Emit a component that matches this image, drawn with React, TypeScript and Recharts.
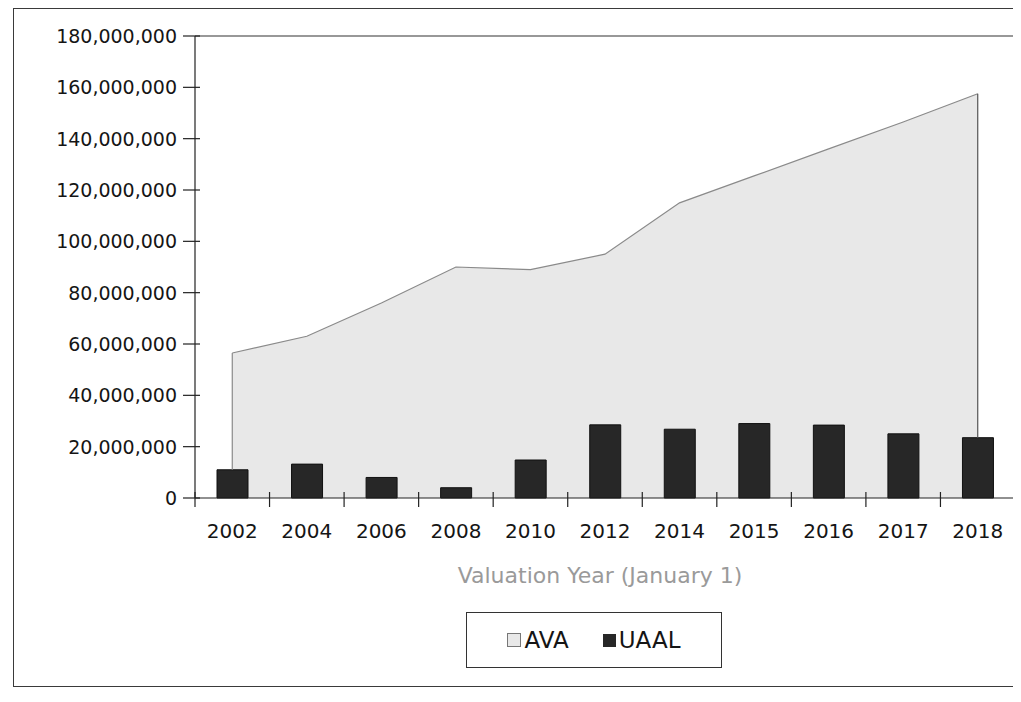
import React from "react";
import {
  ComposedChart, Area, Bar, XAxis, YAxis, ReferenceLine,
} from "recharts";

const YEARS = ["2002", "2004", "2006", "2008", "2010", "2012", "2014", "2015", "2016", "2017", "2018"];
const AVA = [56500000, 63000000, 76000000, 90000000, 89000000, 95000000, 115000000, 125500000, 136000000, 146500000, 157500000];
const UAAL = [11000000, 13200000, 8000000, 4000000, 14800000, 28500000, 26800000, 29000000, 28400000, 25000000, 23500000];
const Y_TICKS = [0, 20000000, 40000000, 60000000, 80000000, 100000000, 120000000, 140000000, 160000000, 180000000];

const data = YEARS.map((year, i) => ({ year, ava: AVA[i], uaal: UAAL[i] }));

const FONT = '"DejaVu Sans", Verdana, sans-serif';
const CHART_W = 1010;
const CHART_H = 540;
const M = { top: 26, right: 10, left: 0, bottom: 0 };
const Y_W = 180;
const X_H = 52;
const PLOT_BOTTOM = CHART_H - M.bottom - X_H;
const BAND = (CHART_W - M.right - M.left - Y_W) / YEARS.length;
const LAST = YEARS.length - 1;

const XTick = (props: any) => {
  const { x, payload, index } = props;
  return (
    <g>
      <line x1={x - BAND / 2} x2={x - BAND / 2} y1={PLOT_BOTTOM - 6} y2={PLOT_BOTTOM + 9} stroke="#222" strokeWidth={1.2} />
      {index === LAST && (
        <line x1={x + BAND / 2} x2={x + BAND / 2} y1={PLOT_BOTTOM - 6} y2={PLOT_BOTTOM + 9} stroke="#222" strokeWidth={1.2} />
      )}
      <text x={x} y={PLOT_BOTTOM + 40} textAnchor="middle" fill="#151515" fontSize={20} fontFamily={FONT}>
        {payload.value}
      </text>
    </g>
  );
};

const YTick = (props: any) => {
  const { y, payload } = props;
  return (
    <g>
      <line x1={Y_W - 12} x2={Y_W + 5} y1={y} y2={y} stroke="#222" strokeWidth={1.2} />
      <text x={Y_W - 18} y={y + 7} textAnchor="end" fill="#151515" fontSize={19} fontFamily={FONT}>
        {Number(payload.value).toLocaleString("en-US")}
      </text>
    </g>
  );
};

export default function App() {
  return (
    <div style={{ position: "relative", width: 1005, height: 682, overflow: "hidden", fontFamily: FONT, background: "#fff" }}>
      <div style={{ position: "absolute", left: 5, top: 0, width: 1030, height: 677, border: "1.5px solid #3a3a3a" }} />
      <div style={{ position: "absolute", left: 7, top: 2 }}>
        <ComposedChart width={CHART_W} height={CHART_H} data={data} margin={M}>
          <XAxis dataKey="year" height={X_H} axisLine={{ stroke: "#222", strokeWidth: 1.2 }} tickLine={false} tick={<XTick />} interval={0} />
          <YAxis width={Y_W} domain={[0, 180000000]} ticks={Y_TICKS} interval={0}
            axisLine={{ stroke: "#222", strokeWidth: 1.2 }} tickLine={false} tick={<YTick />} />
          <ReferenceLine y={180000000} stroke="#333" strokeWidth={1.2} />
          <Area type="linear" dataKey="ava" fill="#e8e8e8" fillOpacity={1} stroke="#8a8a8a" strokeWidth={1.2} dot={false} activeDot={false} isAnimationActive={false} />
          <ReferenceLine segment={[{ x: YEARS[0], y: UAAL[0] }, { x: YEARS[0], y: AVA[0] }]} stroke="#8a8a8a" strokeWidth={1.2} />
          <ReferenceLine segment={[{ x: YEARS[LAST], y: UAAL[LAST] }, { x: YEARS[LAST], y: AVA[LAST] }]} stroke="#555" strokeWidth={1.2} />
          <Bar dataKey="uaal" fill="#272727" stroke="#111" barSize={31} isAnimationActive={false} />
        </ComposedChart>
      </div>
      <div style={{ position: "absolute", left: 0, width: 1184, top: 555, textAlign: "center", fontSize: 22, color: "#9a9a9a" }}>
        Valuation Year (January 1)
      </div>
      <div style={{ position: "absolute", left: 458, top: 604, width: 254, height: 54, border: "1.5px solid #333",
        display: "flex", alignItems: "center", justifyContent: "center", gap: 34, fontSize: 23, color: "#151515" }}>
        <span style={{ display: "flex", alignItems: "center" }}>
          <span style={{ width: 12, height: 12, background: "#e8e8e8", border: "1px solid #777", marginRight: 3 }} />AVA
        </span>
        <span style={{ display: "flex", alignItems: "center" }}>
          <span style={{ width: 13, height: 13, background: "#272727", marginRight: 3 }} />UAAL
        </span>
      </div>
    </div>
  );
}
